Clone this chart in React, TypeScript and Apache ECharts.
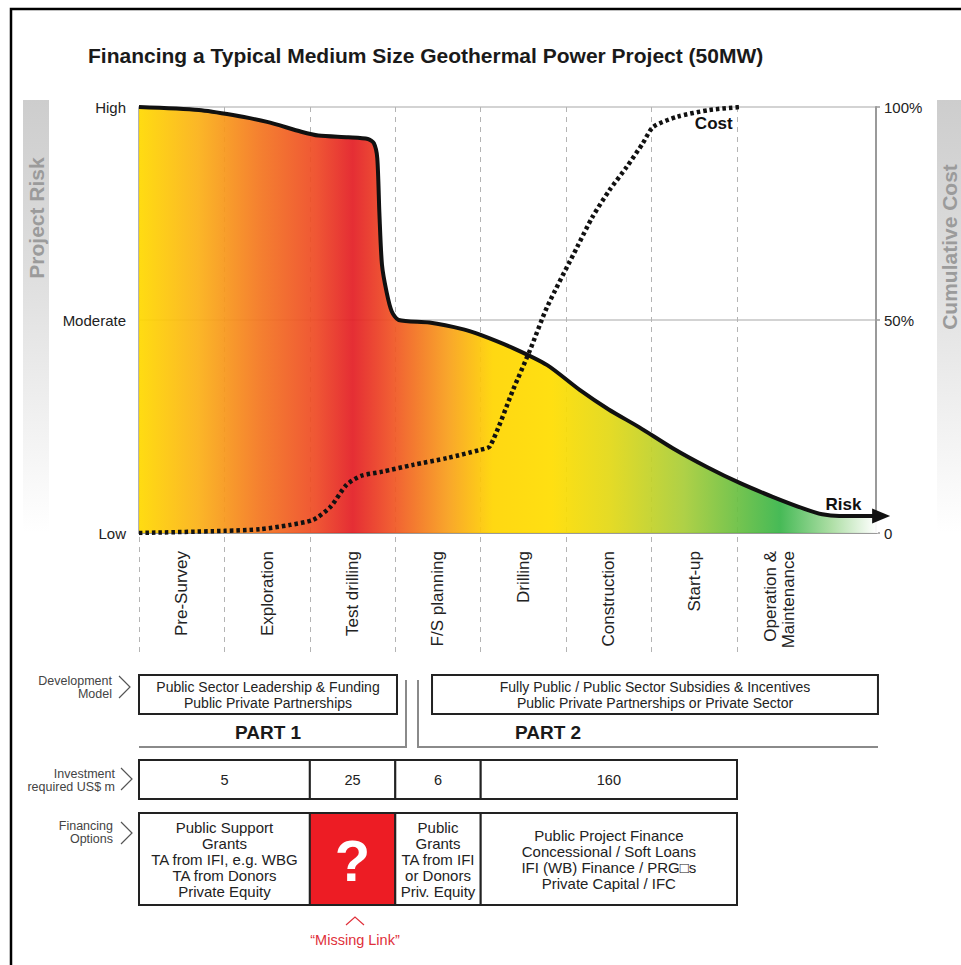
import React, { useEffect, useRef } from 'react';
import * as echarts from 'echarts';

const FONT = '"Liberation Sans", Arial, Helvetica, sans-serif';

// Stage categories (x axis, one unit per stage)
const stages = [
  'Pre-Survey',
  'Exploration',
  'Test drilling',
  'F/S planning',
  'Drilling',
  'Construction',
  'Start-up',
  'Operation &\nMaintenance',
];
const riskTickLabels = ['Low', 'Moderate', 'High'];
const costTickLabels = ['0', '50%', '100%'];

// Project risk curve (x in stage units, y 0 = Low, 0.5 = Moderate, 1 = High)
const riskStage = [0, 0.7, 1.1, 1.5, 1.9, 2.1, 2.45, 2.68, 2.75, 2.79, 2.815, 2.845, 2.9, 2.96, 3.04, 3.4, 3.8, 4.0, 4.38, 4.78, 5.16, 5.5, 5.86, 6.25, 6.65, 7.04, 7.42, 7.8, 8.0, 8.2, 8.69];
const riskLevel = [1.0, 0.993, 0.981, 0.965, 0.942, 0.933, 0.929, 0.925, 0.915, 0.88, 0.75, 0.63, 0.565, 0.52, 0.5, 0.494, 0.478, 0.465, 0.434, 0.394, 0.336, 0.29, 0.248, 0.199, 0.155, 0.117, 0.085, 0.056, 0.044, 0.04, 0.04];

// Cumulative cost curve (x in stage units, y in %)
const costStage = [0, 1.0, 1.42, 1.77, 2.04, 2.24, 2.43, 2.6, 2.85, 3.21, 3.61, 3.99, 4.11, 4.38, 4.58, 4.78, 5.13, 5.31, 5.51, 5.71, 5.9, 6.02, 6.3, 6.68, 7.04];
const costPct = [0, 0.5, 0.9, 1.9, 3.1, 6.1, 11.3, 13.4, 14.4, 16.0, 17.6, 19.5, 20.4, 33.6, 43.0, 53.1, 67.1, 74.2, 80.5, 85.9, 91.5, 95.3, 97.7, 99.3, 100];

// Bottom table rows (spans in stage units)
const devModelSpans = [[0, 3.02], [3.43, 8.65]];
const devModelTexts = [
  'Public Sector Leadership & Funding\nPublic Private Partnerships',
  'Fully Public / Public Sector Subsidies & Incentives\nPublic Private Partnerships or Private Sector',
];
const investmentSpans = [[0, 2], [2, 3], [3, 4], [4, 7]];
const investmentUSDm = [5, 25, 6, 160];
const financingTexts = [
  'Public Support\nGrants\nTA from IFI, e.g. WBG\nTA from Donors\nPrivate Equity',
  '?',
  'Public\nGrants\nTA from IFI\nor Donors\nPriv. Equity',
  'Public Project Finance\nConcessional / Soft Loans\nIFI (WB) Finance / PRG\u25A1s\nPrivate Capital / IFC',
];
const missingLinkIndex = 1;

const riskGradient = {
  type: 'linear', x: 139, y: 0, x2: 876, y2: 0, global: true,
  colorStops: [
    { offset: 0, color: '#FFD900' },
    { offset: 0.08, color: '#FBB117' },
    { offset: 0.16, color: '#F47920' },
    { offset: 0.24, color: '#EE4A25' },
    { offset: 0.29, color: '#E31E25' },
    { offset: 0.34, color: '#EF4F24' },
    { offset: 0.42, color: '#F8A01B' },
    { offset: 0.48, color: '#FFD500' },
    { offset: 0.56, color: '#FFDD00' },
    { offset: 0.64, color: '#E2D816' },
    { offset: 0.74, color: '#A8CD39' },
    { offset: 0.87, color: '#39B54A' },
    { offset: 0.94, color: '#A8DC9F' },
    { offset: 1, color: '#FFFFFF' },
  ],
};

function cellRenderer(top: number, height: number, getText: (i: number) => string, fontSize: number, lineHeight: number, redIndex: number) {
  return (params: any, api: any) => {
    const s = api.value(0);
    const e = api.value(1);
    const i = api.value(2);
    const x0 = api.coord([s, 0])[0];
    const x1 = api.coord([e, 0])[0];
    const isRed = i === redIndex;
    return {
      type: 'group',
      children: [
        {
          type: 'rect',
          shape: { x: x0, y: top, width: x1 - x0, height },
          style: { fill: isRed ? '#ED1C24' : '#ffffff', stroke: '#222', lineWidth: 2 },
        },
        {
          type: 'text',
          x: (x0 + x1) / 2,
          y: top + height / 2 + (isRed ? 1 : 0),
          style: {
            text: getText(i),
            fontSize: isRed ? 58 : fontSize,
            fontWeight: isRed ? 'bold' : 'normal',
            fontFamily: FONT,
            fill: isRed ? '#ffffff' : '#222',
            align: 'center',
            verticalAlign: 'middle',
            lineHeight: isRed ? 60 : lineHeight,
          },
        },
      ],
    };
  };
}
const devText = (i: number) => devModelTexts[i];
const invText = (i: number) => String(investmentUSDm[i]);
const finText = (i: number) => financingTexts[i];

const chevron = (x: number, yMid: number) => ({
  type: 'polyline',
  shape: { points: [[x, yMid - 11], [x + 11, yMid], [x, yMid + 11]] },
  style: { fill: 'none', stroke: '#555', lineWidth: 1.2 },
});

const rowLabel = (text: string, x: number, y: number) => ({
  type: 'text',
  x, y,
  style: { text, fontSize: 12.5, fontFamily: FONT, fill: '#444', align: 'right', verticalAlign: 'middle', lineHeight: 13 },
});

const option: any = {
  animation: false,
  backgroundColor: '#ffffff',
  textStyle: { fontFamily: FONT },
  grid: [
    { left: 139, top: 107, width: 737, height: 426, containLabel: false, outerBoundsMode: 'none' },
    { left: 139, top: 107, width: 598, height: 548, containLabel: false, outerBoundsMode: 'none' },
    { left: 139, top: 533, width: 683.4, height: 122, containLabel: false, outerBoundsMode: 'none' },
    { left: 139, top: 660, width: 598, height: 300, containLabel: false, outerBoundsMode: 'none' },
  ],
  xAxis: [
    {
      gridIndex: 0, type: 'value', min: 0, max: 8.63,
      axisLine: { show: true, onZero: false, lineStyle: { color: '#9a9a9a', width: 2 } },
      axisTick: { show: false }, axisLabel: { show: false }, splitLine: { show: false },
    },
    {
      gridIndex: 1, type: 'value', min: 0, max: 7, interval: 1,
      axisLine: { show: false }, axisTick: { show: false }, axisLabel: { show: false },
      splitLine: { show: true, lineStyle: { color: '#b4b4b4', width: 1, type: [5, 5] } },
    },
    {
      gridIndex: 2, type: 'category', data: stages, position: 'top', boundaryGap: true,
      axisLine: { show: false }, axisTick: { show: false }, splitLine: { show: false },
      axisLabel: { inside: true, rotate: 90, margin: 18, interval: 0, fontSize: 17, color: '#222', lineHeight: 18, fontFamily: FONT },
    },
    { gridIndex: 3, type: 'value', min: 0, max: 7, show: false },
  ],
  yAxis: [
    {
      gridIndex: 0, type: 'value', min: 0, max: 1, interval: 0.5, position: 'left',
      axisLine: { show: true, lineStyle: { color: '#9a9a9a', width: 1.5 } },
      axisTick: { show: false },
      axisLabel: { formatter: (v: number) => riskTickLabels[Math.round(v * 2)], fontSize: 15, color: '#222', margin: 13 },
      splitLine: { show: true, lineStyle: { color: '#c4c4c4', width: 1.5 } },
    },
    {
      gridIndex: 0, type: 'value', min: 0, max: 100, interval: 50, position: 'right',
      axisLine: { show: true, lineStyle: { color: '#9a9a9a', width: 2 } },
      axisTick: { show: true, length: 4, lineStyle: { color: '#9a9a9a', width: 1.5 } },
      axisLabel: { formatter: (v: number) => costTickLabels[Math.round(v / 50)], fontSize: 15, color: '#222', margin: 8 },
      splitLine: { show: false },
    },
    { gridIndex: 1, type: 'value', min: 0, max: 1, show: false },
    { gridIndex: 2, type: 'value', min: 0, max: 1, show: false },
    { gridIndex: 3, type: 'value', min: 0, max: 10, show: false },
  ],
  series: [
    {
      name: 'Risk', type: 'line', xAxisIndex: 0, yAxisIndex: 0, z: 2,
      smooth: 0.25, symbol: 'none', showSymbol: true, clip: false, silent: true,
      lineStyle: { color: '#111', width: 4, join: 'round' },
      itemStyle: { color: '#111' },
      areaStyle: { color: riskGradient, opacity: 0.93 },
      data: riskStage.map((u, i) =>
        i === riskStage.length - 1
          ? { value: [u, riskLevel[i]], symbol: 'triangle', symbolSize: [15, 18], symbolRotate: -90 }
          : [u, riskLevel[i]]
      ),
      markPoint: {
        silent: true, symbol: 'circle', symbolSize: 1, itemStyle: { color: 'rgba(0,0,0,0)' },
        label: { show: true, position: 'inside', formatter: 'Risk', fontWeight: 'bold', fontSize: 17, color: '#111', fontFamily: FONT },
        data: [{ coord: [8.25, 0.066] }],
      },
    },
    {
      name: 'Cost', type: 'line', xAxisIndex: 0, yAxisIndex: 1, z: 3,
      smooth: 0.25, symbol: 'none', silent: true,
      lineStyle: { color: '#111', width: 4.5, type: [3.5, 3] },
      data: costStage.map((u, i) => [u, costPct[i]]),
      markPoint: {
        silent: true, symbol: 'circle', symbolSize: 1, itemStyle: { color: 'rgba(0,0,0,0)' },
        label: { show: true, position: 'inside', formatter: 'Cost', fontWeight: 'bold', fontSize: 17, color: '#111', fontFamily: FONT },
        data: [{ coord: [6.73, 96.2] }],
      },
    },
    {
      type: 'custom', xAxisIndex: 3, yAxisIndex: 4, silent: true,
      renderItem: cellRenderer(675, 39, devText, 14, 16, -1),
      data: devModelSpans.map((s, i) => [s[0], s[1], i]),
    },
    {
      type: 'custom', xAxisIndex: 3, yAxisIndex: 4, silent: true,
      renderItem: cellRenderer(760, 39, invText, 14.5, 16, -1),
      data: investmentSpans.map((s, i) => [s[0], s[1], i]),
    },
    {
      type: 'custom', xAxisIndex: 3, yAxisIndex: 4, silent: true,
      renderItem: cellRenderer(813, 92, finText, 15, 16, missingLinkIndex),
      data: investmentSpans.map((s, i) => [s[0], s[1], i]),
    },
  ],
  graphic: [
    { type: 'rect', shape: { x: 11, y: 9, width: 1000, height: 1000 }, style: { fill: 'none', stroke: '#000', lineWidth: 2.5 } },
    {
      type: 'rect', shape: { x: 23, y: 100, width: 26, height: 432 },
      style: { fill: { type: 'linear', x: 0, y: 0, x2: 0, y2: 1, colorStops: [{ offset: 0, color: '#cdcdcd' }, { offset: 0.4, color: '#dedede' }, { offset: 1, color: '#ffffff' }] } },
    },
    {
      type: 'rect', shape: { x: 937, y: 100, width: 30, height: 432 },
      style: { fill: { type: 'linear', x: 0, y: 0, x2: 0, y2: 1, colorStops: [{ offset: 0, color: '#cdcdcd' }, { offset: 0.4, color: '#dedede' }, { offset: 1, color: '#ffffff' }] } },
    },
    {
      type: 'text', x: 36, y: 218, rotation: Math.PI / 2,
      style: { text: 'Project Risk', fontSize: 21, fontWeight: 'bold', fontFamily: FONT, fill: '#9b9b9b', align: 'center', verticalAlign: 'middle' },
    },
    {
      type: 'text', x: 949, y: 247, rotation: Math.PI / 2,
      style: { text: 'Cumulative Cost', fontSize: 21, fontWeight: 'bold', fontFamily: FONT, fill: '#9b9b9b', align: 'center', verticalAlign: 'middle' },
    },
    {
      type: 'text', x: 88, y: 55,
      style: { text: 'Financing a Typical Medium Size Geothermal Power Project (50MW)', fontSize: 21, fontWeight: 'bold', fontFamily: FONT, fill: '#1a1a1a', align: 'left', verticalAlign: 'middle' },
    },
    rowLabel('Development\nModel', 112, 687),
    chevron(119, 687),
    rowLabel('Investment\nrequired US$ m', 115, 780),
    chevron(121, 779),
    rowLabel('Financing\nOptions', 113, 832),
    chevron(121, 833),
    {
      type: 'polyline', shape: { points: [[139, 747], [406, 747], [406, 680]] },
      style: { fill: 'none', stroke: '#8a8a8a', lineWidth: 2 },
    },
    {
      type: 'polyline', shape: { points: [[418, 680], [418, 747], [878, 747]] },
      style: { fill: 'none', stroke: '#8a8a8a', lineWidth: 2 },
    },
    {
      type: 'text', x: 268, y: 732,
      style: { text: 'PART 1', fontSize: 19, fontWeight: 'bold', fontFamily: FONT, fill: '#1a1a1a', align: 'center', verticalAlign: 'middle' },
    },
    {
      type: 'text', x: 548, y: 732,
      style: { text: 'PART 2', fontSize: 19, fontWeight: 'bold', fontFamily: FONT, fill: '#1a1a1a', align: 'center', verticalAlign: 'middle' },
    },
    {
      type: 'polyline', shape: { points: [[346, 925], [355, 917], [364, 925]] },
      style: { fill: 'none', stroke: '#E0303A', lineWidth: 1.2 },
    },
    {
      type: 'text', x: 355, y: 940,
      style: { text: '\u201CMissing Link\u201D', fontSize: 14.5, fontFamily: FONT, fill: '#E0303A', align: 'center', verticalAlign: 'middle' },
    },
  ],
};

export default function App() {
  const ref = useRef<HTMLDivElement>(null);
  useEffect(() => {
    if (!ref.current) return;
    const chart = echarts.init(ref.current, null, { renderer: 'svg' });
    chart.setOption(option);
    return () => chart.dispose();
  }, []);
  return (
    <div
      ref={ref}
      style={{ position: 'absolute', left: 0, top: 0, width: 961, height: 965, background: '#ffffff' }}
    />
  );
}
